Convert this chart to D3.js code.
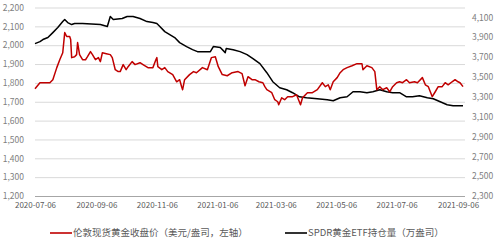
<!DOCTYPE html>
<html>
<head>
<meta charset="utf-8">
<script src="https://cdn.jsdelivr.net/npm/d3@7"></script>
<style>
  body { margin: 0; background: #fff; }
  text { font-family: "Noto Sans CJK SC", "Noto Sans", sans-serif; }
</style>
</head>
<body>
<div id="chart"></div>
<script>
// London spot gold close (USD/oz, left axis)
const goldDates = [
  "2020-07-06","2020-07-11","2020-07-21","2020-07-24","2020-07-28","2020-07-31","2020-08-03","2020-08-05",
  "2020-08-07","2020-08-10","2020-08-11","2020-08-12","2020-08-15","2020-08-17","2020-08-18","2020-08-20",
  "2020-08-23","2020-08-26","2020-08-28","2020-08-31","2020-09-02","2020-09-05","2020-09-08","2020-09-10",
  "2020-09-12","2020-09-16","2020-09-20","2020-09-22","2020-09-25","2020-09-28","2020-09-30","2020-10-03",
  "2020-10-06","2020-10-08","2020-10-12","2020-10-15","2020-10-20","2020-10-23","2020-10-28","2020-11-02",
  "2020-11-05","2020-11-06","2020-11-07","2020-11-11","2020-11-14","2020-11-17","2020-11-22","2020-11-26",
  "2020-11-29","2020-12-01","2020-12-02","2020-12-04","2020-12-09","2020-12-13","2020-12-16","2020-12-22",
  "2020-12-27","2020-12-31","2021-01-04","2021-01-07","2021-01-11","2021-01-16","2021-01-21","2021-01-27",
  "2021-01-31","2021-02-03","2021-02-06","2021-02-10","2021-02-13","2021-02-17","2021-02-21","2021-02-23",
  "2021-02-25","2021-03-02","2021-03-05","2021-03-08","2021-03-09","2021-03-12","2021-03-15","2021-03-18",
  "2021-03-23","2021-03-27","2021-03-31","2021-04-02","2021-04-07","2021-04-12","2021-04-17","2021-04-22",
  "2021-04-25","2021-04-28","2021-04-30","2021-05-03","2021-05-07","2021-05-10","2021-05-13","2021-05-17",
  "2021-05-22","2021-05-27","2021-06-01","2021-06-02","2021-06-06","2021-06-11","2021-06-14","2021-06-16",
  "2021-06-19","2021-06-22","2021-06-26","2021-06-29","2021-07-02","2021-07-06","2021-07-09","2021-07-12",
  "2021-07-16","2021-07-19","2021-07-24","2021-07-27","2021-08-01","2021-08-04","2021-08-07","2021-08-11",
  "2021-08-14","2021-08-17","2021-08-21","2021-08-24","2021-08-27","2021-08-31","2021-09-03","2021-09-06",
  "2021-09-08","2021-09-11"
];
const goldValues = [
  1769,1801,1801,1817,1881,1923,1960,2067,
  2046,2046,2030,1934,1939,1950,2014,1950,
  1923,1923,1939,1966,1950,1923,1934,1913,
  1960,1955,1950,1934,1870,1860,1860,1897,
  1870,1886,1913,1897,1907,1897,1881,1881,
  1923,1934,1886,1870,1881,1860,1844,1806,
  1817,1780,1764,1817,1844,1860,1854,1881,
  1870,1934,1939,1886,1844,1838,1854,1860,
  1849,1785,1833,1817,1817,1806,1801,1780,
  1764,1748,1711,1700,1684,1721,1711,1727,
  1727,1737,1684,1721,1748,1748,1764,1801,
  1780,1790,1764,1806,1828,1854,1870,1881,
  1891,1902,1902,1870,1891,1881,1860,1764,
  1780,1764,1774,1753,1780,1801,1806,1801,
  1817,1801,1806,1801,1828,1790,1780,1727,
  1753,1780,1780,1801,1790,1806,1817,1806,
  1801,1780
];

// SPDR gold ETF holdings (10k oz, right axis)
const spdrDates = [
  "2020-07-06","2020-07-11","2020-07-14","2020-07-19","2020-07-24","2020-07-29","2020-08-03","2020-08-05",
  "2020-08-08","2020-08-12","2020-08-15","2020-08-23","2020-09-10","2020-09-17","2020-09-20","2020-09-23",
  "2020-10-02","2020-10-07","2020-10-13","2020-10-20","2020-10-27","2020-11-02","2020-11-06","2020-11-09",
  "2020-11-14","2020-11-19","2020-11-24","2020-11-29","2020-12-06","2020-12-12","2020-12-17","2020-12-23",
  "2020-12-30","2021-01-02","2021-01-09","2021-01-14","2021-01-15","2021-01-22","2021-01-29","2021-02-05",
  "2021-02-11","2021-02-18","2021-02-25","2021-03-03","2021-03-10","2021-03-17","2021-03-23","2021-03-30",
  "2021-04-06","2021-04-17","2021-04-27","2021-05-03","2021-05-10","2021-05-17","2021-05-23","2021-05-30",
  "2021-06-06","2021-06-12","2021-06-19","2021-06-26","2021-07-02","2021-07-09","2021-07-16","2021-07-22",
  "2021-07-29","2021-08-06","2021-08-12","2021-08-19","2021-08-26","2021-09-01","2021-09-08","2021-09-11"
];
const spdrValues = [
  3836,3856,3877,3897,3947,3998,4058,4079,
  4048,4028,4038,4038,4028,4008,4109,4079,
  4089,4109,4109,4089,4058,4048,4038,4008,
  3957,3927,3897,3846,3806,3775,3755,3755,
  3755,3806,3796,3745,3786,3775,3755,3725,
  3685,3634,3543,3452,3391,3371,3341,3300,
  3290,3280,3270,3260,3290,3300,3351,3351,
  3341,3351,3371,3351,3341,3341,3300,3300,
  3311,3290,3280,3250,3220,3210,3210,3210
];

const xTickLabels = ["2020-07-06","2020-09-06","2020-11-06","2021-01-06","2021-03-06","2021-05-06","2021-07-06","2021-09-06"];
const leftTicks = [1200,1300,1400,1500,1600,1700,1800,1900,2000,2100,2200];
const rightTicks = [2300,2500,2700,2900,3100,3300,3500,3700,3900,4100];
const legendLabels = ["伦敦现货黄金收盘价（美元/盎司，左轴）", "SPDR黄金ETF持仓量（万盎司）"];

const svgWidth = 499, svgHeight = 242;
const plot = { left: 35, right: 465, top: 7.5, bottom: 196 };
const parse = d3.timeParse("%Y-%m-%d");

const svg = d3.select("#chart").append("svg")
  .attr("width", svgWidth)
  .attr("height", svgHeight);

const x = d3.scaleTime()
  .domain([parse("2020-07-06"), parse("2021-09-11")])
  .range([plot.left, 463]);
const yLeft = d3.scaleLinear().domain([1200, 2200]).range([plot.bottom, plot.top]);
const yRight = d3.scaleLinear().domain([2300, 4200]).range([plot.bottom, plot.top]);

// gridlines
svg.append("g")
  .attr("transform", `translate(${plot.left},0)`)
  .call(d3.axisLeft(yLeft).tickValues(leftTicks.slice(1)).tickSize(-(plot.right - plot.left)).tickFormat(""))
  .call(g => g.select(".domain").remove())
  .call(g => g.selectAll("line").attr("stroke", "#d9d9d9"));

// left axis labels
svg.append("g")
  .attr("transform", `translate(25,0)`)
  .call(d3.axisLeft(yLeft).tickValues(leftTicks).tickSize(0).tickFormat(d3.format(",")))
  .call(g => g.select(".domain").remove())
  .call(g => g.selectAll("text").attr("fill", "#808080").attr("font-size", "8.5px").attr("x", -1));

// right axis labels
svg.append("g")
  .attr("transform", `translate(471,0)`)
  .call(d3.axisRight(yRight).tickValues(rightTicks).tickSize(0).tickFormat(d3.format(",")))
  .call(g => g.select(".domain").remove())
  .call(g => g.selectAll("text").attr("fill", "#808080").attr("font-size", "8.5px").attr("x", 1));

// bottom axis
svg.append("g")
  .attr("transform", `translate(0,${plot.bottom})`)
  .call(d3.axisBottom(x).tickValues(xTickLabels.map(parse)).tickSize(0).tickFormat(d3.timeFormat("%Y-%m-%d")))
  .call(g => g.select(".domain").attr("d", `M${plot.left},0.5H${plot.right}`).attr("stroke", "#a6a6a6"))
  .call(g => g.selectAll("text").attr("fill", "#595959").attr("font-size", "8px").attr("y", 5).attr("dy", "0.9em"));

// lines
const goldData = goldDates.map((d, i) => ({ date: parse(d), value: goldValues[i] }));
const spdrData = spdrDates.map((d, i) => ({ date: parse(d), value: spdrValues[i] }));

svg.append("path")
  .datum(spdrData)
  .attr("fill", "none")
  .attr("stroke", "#000")
  .attr("stroke-width", 1.5)
  .attr("stroke-linejoin", "round")
  .attr("d", d3.line().x(d => x(d.date)).y(d => yRight(d.value)));

svg.append("path")
  .datum(goldData)
  .attr("fill", "none")
  .attr("stroke", "#c00000")
  .attr("stroke-width", 1.5)
  .attr("stroke-linejoin", "round")
  .attr("d", d3.line().x(d => x(d.date)).y(d => yLeft(d.value)));

// legend
const legend = svg.append("g").attr("transform", "translate(0,233)");
const legendItems = [
  { x: 50, color: "#c00000", label: legendLabels[0] },
  { x: 285, color: "#000", label: legendLabels[1] }
];
legendItems.forEach(item => {
  legend.append("line")
    .attr("x1", item.x).attr("x2", item.x + 22)
    .attr("stroke", item.color).attr("stroke-width", 1.6);
  legend.append("text")
    .attr("x", item.x + 23)
    .attr("dy", "0.35em")
    .attr("font-size", "9.5px")
    .attr("fill", "#595959")
    .text(item.label);
});
</script>
</body>
</html>
